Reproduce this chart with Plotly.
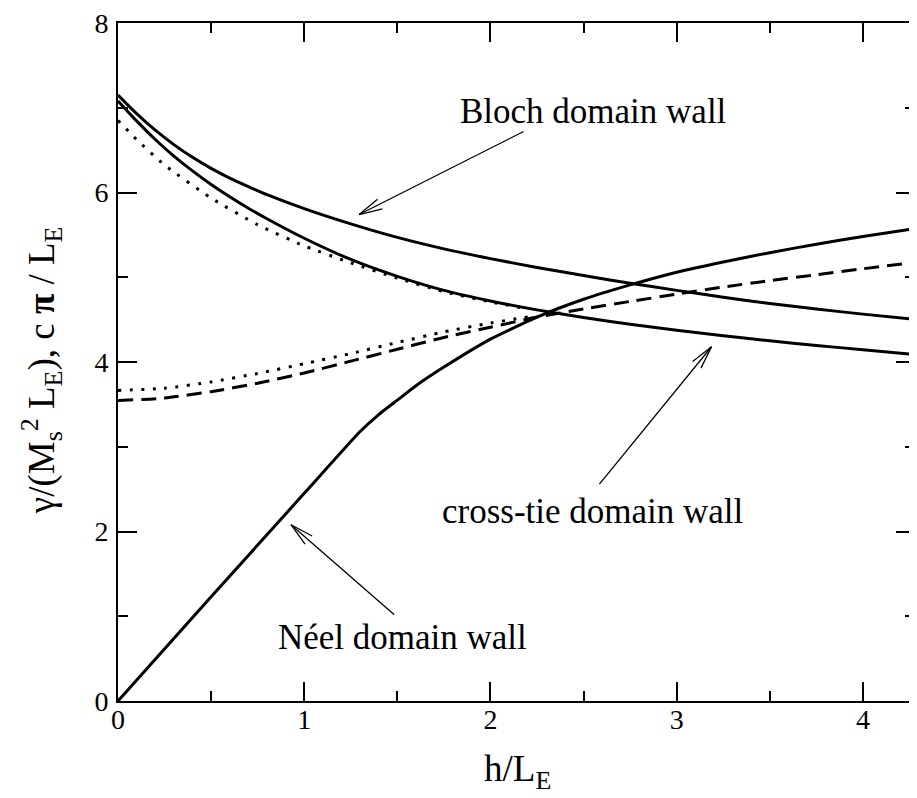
import math
import plotly.graph_objects as go

# ---------------- data ----------------
bloch_x = [0, 0.1, 0.2, 0.3, 0.4, 0.5, 0.6, 0.7, 0.8, 1.0, 1.25, 1.5, 1.75, 2.0, 2.25, 2.5, 2.75, 3.0, 3.25, 3.5, 3.75, 4.0, 4.3]
bloch_y = [7.15, 6.93, 6.735, 6.565, 6.415, 6.285, 6.17, 6.07, 5.975, 5.81, 5.63, 5.47, 5.335, 5.22, 5.115, 5.02, 4.93, 4.845, 4.765, 4.69, 4.625, 4.565, 4.50]

crosstie_x = [0, 0.1, 0.2, 0.3, 0.4, 0.5, 0.6, 0.7, 0.8, 1.0, 1.25, 1.5, 1.75, 2.0, 2.25, 2.5, 2.75, 3.0, 3.25, 3.5, 3.75, 4.0, 4.3]
crosstie_y = [7.08, 6.845, 6.625, 6.43, 6.255, 6.095, 5.95, 5.815, 5.69, 5.46, 5.21, 5.01, 4.845, 4.72, 4.615, 4.525, 4.445, 4.375, 4.31, 4.25, 4.195, 4.145, 4.085]

approx_wall_x = [0, 0.1, 0.25, 0.5, 0.75, 1.0, 1.25, 1.5, 1.75, 2.0, 2.2]
approx_wall_y = [6.85, 6.625, 6.325, 5.935, 5.62, 5.37, 5.17, 4.99, 4.83, 4.71, 4.625]

approx_c_x = [0, 0.25, 0.5, 0.75, 1.0, 1.25, 1.5, 1.75, 2.0, 2.2]
approx_c_y = [3.665, 3.69, 3.765, 3.865, 3.98, 4.10, 4.23, 4.355, 4.46, 4.53]

c_x = [0, 0.25, 0.5, 0.75, 1.0, 1.25, 1.5, 1.75, 2.0, 2.25, 2.5, 2.75, 3.0, 3.25, 3.5, 3.75, 4.0, 4.3]
c_y = [3.545, 3.575, 3.65, 3.75, 3.87, 4.01, 4.15, 4.29, 4.41, 4.53, 4.625, 4.715, 4.80, 4.885, 4.96, 5.03, 5.10, 5.18]

neel_x = [0, 0.5, 1.0, 1.3, 1.4, 1.5, 1.6, 1.75, 2.0, 2.25, 2.5, 2.75, 3.0, 3.25, 3.5, 3.75, 4.0, 4.3]
neel_y = [0, 1.23, 2.45, 3.18, 3.38, 3.55, 3.72, 3.94, 4.27, 4.53, 4.74, 4.91, 5.06, 5.18, 5.29, 5.39, 5.48, 5.58]

x_ticks = [0, 1, 2, 3, 4]
y_ticks = [0, 2, 4, 6, 8]

# labels: (text, text x, text y, arrow tail x, tail y, tip x, tip y)
labels = [
    ("Bloch domain wall", 2.553, 6.96, 2.178, 6.72, 1.295, 5.74),
    ("cross-tie domain wall", 2.55, 2.24, 2.585, 2.56, 3.187, 4.18),
    ("Néel domain wall", 1.525, 0.75, 1.482, 1.02, 0.929, 2.08),
]

# ---------------- layout constants ----------------
# page body has an 8px margin, figure is sized to compensate
W, H = 909, 790
ML, MR, MT, MB = 110, 0, 11, 97
PW, PH = W - ML - MR, H - MT - MB
XMAX = PW / 186.7
YMAX = 8
SX = PW / XMAX
SY = PH / YMAX
FONT = "Liberation Serif"

fig = go.Figure()
line_w = 3
fig.add_trace(go.Scatter(x=bloch_x, y=bloch_y, mode="lines", line=dict(color="black", width=line_w, shape="spline", smoothing=0.6)))
fig.add_trace(go.Scatter(x=crosstie_x, y=crosstie_y, mode="lines", line=dict(color="black", width=line_w, shape="spline", smoothing=0.6)))
fig.add_trace(go.Scatter(x=approx_wall_x, y=approx_wall_y, mode="lines", line=dict(color="black", width=3, dash="3px,8.5px", shape="spline", smoothing=0.6)))
fig.add_trace(go.Scatter(x=approx_c_x, y=approx_c_y, mode="lines", line=dict(color="black", width=3, dash="3px,8.5px", shape="spline", smoothing=0.6)))
fig.add_trace(go.Scatter(x=c_x, y=c_y, mode="lines", line=dict(color="black", width=line_w, dash="15px,8px", shape="spline", smoothing=0.6)))
fig.add_trace(go.Scatter(x=neel_x, y=neel_y, mode="lines", line=dict(color="black", width=line_w, shape="spline", smoothing=0.5)))

shapes = []
annotations = []
head_len = 24
half_ang = math.radians(13)
for text, tx, ty, x0, y0, x1, y1 in labels:
    shapes.append(dict(type="line", xref="x", yref="y", x0=x0, y0=y0, x1=x1, y1=y1,
                       line=dict(color="black", width=1.3)))
    dx = (x0 - x1) * SX
    dy = (y0 - y1) * SY
    ang = math.atan2(dy, dx)
    for s in (-1, 1):
        a = ang + s * half_ang
        hx = x1 + head_len * math.cos(a) / SX
        hy = y1 + head_len * math.sin(a) / SY
        shapes.append(dict(type="line", xref="x", yref="y", x0=x1, y0=y1, x1=hx, y1=hy,
                           line=dict(color="black", width=1.3)))
    annotations.append(dict(x=tx, y=ty, xref="x", yref="y", text=text, showarrow=False,
                            xanchor="center", yanchor="middle",
                            font=dict(family=FONT, size=35, color="black")))

# axis titles (screen positions minus the 8px page offset)
annotations.append(dict(x=(511 - ML) / PW, y=(MT + PH - 764) / PH,
                        xref="paper", yref="paper", text="h/L<sub>E</sub>", showarrow=False,
                        xanchor="center", yanchor="middle",
                        font=dict(family=FONT, size=37, color="black")))
annotations.append(dict(x=(33 - ML) / PW, y=0.5 - 8 / PH, xref="paper", yref="paper",
                        text="γ/(M<sub>s</sub><sup>2</sup> L<sub>E</sub>), c <b>π</b> / L<sub>E</sub>",
                        showarrow=False, textangle=-90, xanchor="center", yanchor="middle",
                        font=dict(family=FONT, size=37, color="black")))

axis_common = dict(showline=True, linecolor="black", linewidth=2, mirror="ticks",
                   ticks="inside", ticklen=19, tickwidth=1.5, tickcolor="black",
                   showgrid=False, zeroline=False, ticklabeloverflow="allow",
                   tickfont=dict(family=FONT, size=28, color="black"))

fig.update_layout(
    width=W, height=H,
    margin=dict(l=ML, r=MR, t=MT, b=MB),
    paper_bgcolor="white", plot_bgcolor="white",
    showlegend=False,
    shapes=shapes, annotations=annotations,
    xaxis=dict(range=[0, XMAX], tickvals=x_ticks, ticktext=[str(v) for v in x_ticks],
               ticklabelstandoff=-8,
               minor=dict(ticks="inside", ticklen=10, tickwidth=1.5, tickcolor="black", dtick=0.5, tick0=0),
               **axis_common),
    yaxis=dict(range=[0, YMAX], tickvals=y_ticks, ticktext=[str(v) for v in y_ticks],
               ticklabelstandoff=2,
               minor=dict(ticks="inside", ticklen=10, tickwidth=1.5, tickcolor="black", dtick=1, tick0=0),
               **axis_common),
)

fig.write_html("out.html")
